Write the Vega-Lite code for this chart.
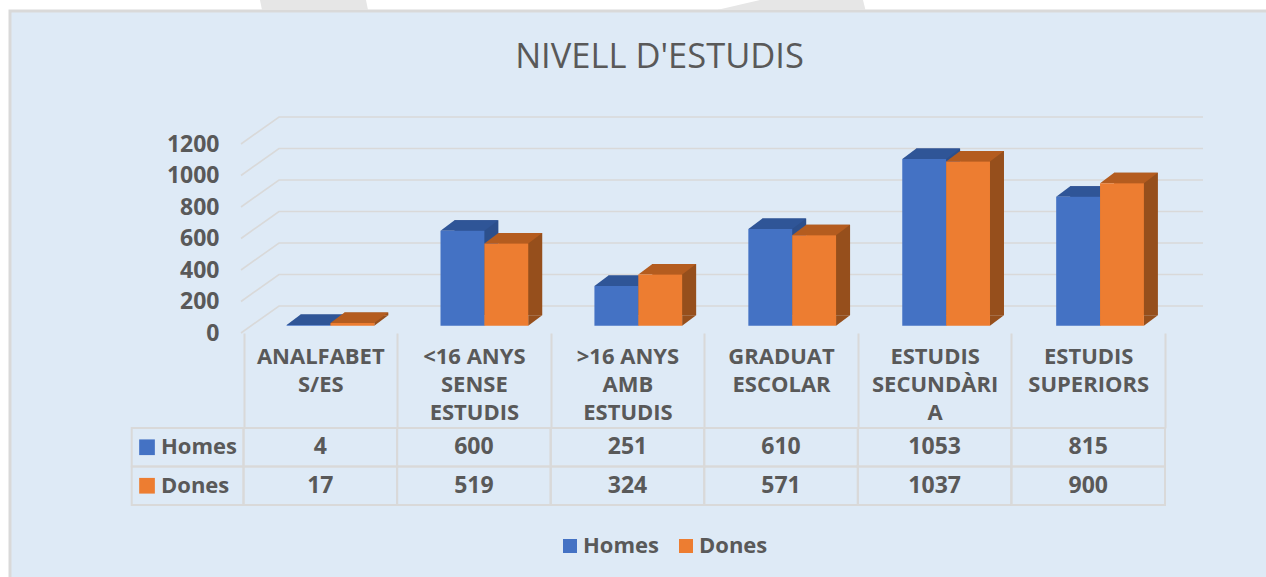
{
"$schema":"https://vega.github.io/schema/vega-lite/v6.json",
"width":1259,"height":569,
"padding":{"left":10,"top":11,"right":-3,"bottom":-3},
"autosize":{"type":"none"},
"background":"#FFFFFF",
"view":{"fill":"#DEEAF6","stroke":"#D9D9D9","strokeWidth":3},
"title":{"text":"NIVELL D'ESTUDIS","offset":-75,"anchor":"middle","dx":20,"fontSize":34.5,"font":"Open Sans","fontWeight":"normal","color":"#595959"},
"config":{"font":"Open Sans","text":{"font":"Open Sans"}},
"datasets":{
"rows":[
{"cat":"ANALFABET\nS/ES","series":"Homes","value":4},
{"cat":"ANALFABET\nS/ES","series":"Dones","value":17},
{"cat":"<16 ANYS\nSENSE\nESTUDIS","series":"Homes","value":600},
{"cat":"<16 ANYS\nSENSE\nESTUDIS","series":"Dones","value":519},
{"cat":">16 ANYS\nAMB\nESTUDIS","series":"Homes","value":251},
{"cat":">16 ANYS\nAMB\nESTUDIS","series":"Dones","value":324},
{"cat":"GRADUAT\nESCOLAR","series":"Homes","value":610},
{"cat":"GRADUAT\nESCOLAR","series":"Dones","value":571},
{"cat":"ESTUDIS\nSECUNDÀRI\nA","series":"Homes","value":1053},
{"cat":"ESTUDIS\nSECUNDÀRI\nA","series":"Dones","value":1037},
{"cat":"ESTUDIS\nSUPERIORS","series":"Homes","value":815},
{"cat":"ESTUDIS\nSUPERIORS","series":"Dones","value":900}
],
"ticks":[{"tick":0},{"tick":200},{"tick":400},{"tick":600},{"tick":800},{"tick":1000},{"tick":1200}],
"series":[{"series":"Homes"},{"series":"Dones"}]
},
"resolve":{"scale":{"x":"independent","y":"independent"}},
"layer":[
{"data":{"name":"ticks"},
 "transform":[{"filter":"datum.tick===1200"}],
 "mark":{"type":"point","shape":"M16.5,-144L122.5,-144L124.5,-134L18.5,-134ZM473.5,-134L516.5,-144L619.5,-144L622,-134Z","size":4,"filled":true,"color":"#E6E6E6","opacity":1},
 "encoding":{
  "x":{"datum":"ANALFABET\nS/ES","type":"nominal","bandPosition":0,"axis":null,"scale":{"type":"band","domain":["ANALFABET\nS/ES","<16 ANYS\nSENSE\nESTUDIS",">16 ANYS\nAMB\nESTUDIS","GRADUAT\nESCOLAR","ESTUDIS\nSECUNDÀRI\nA","ESTUDIS\nSUPERIORS"],"range":[233.5,1155]}},
  "y":{"field":"tick","type":"quantitative","axis":null,"scale":{"domain":[0,1200],"range":[322,133],"nice":false}}
 }},
{"data":{"name":"ticks"},
 "mark":{"type":"point","shape":"M-2.5,0L35.5,-27L959.5,-27","size":4,"filled":false,"stroke":"#D9D9D9","strokeWidth":1.6,"opacity":1},
 "encoding":{
  "x":{"datum":"ANALFABET\nS/ES","type":"nominal","bandPosition":0,"axis":null,"scale":{"type":"band","domain":["ANALFABET\nS/ES","<16 ANYS\nSENSE\nESTUDIS",">16 ANYS\nAMB\nESTUDIS","GRADUAT\nESCOLAR","ESTUDIS\nSECUNDÀRI\nA","ESTUDIS\nSUPERIORS"],"range":[233.5,1155]}},
  "y":{"field":"tick","type":"quantitative","scale":{"domain":[0,1200],"range":[322,133],"nice":false},
   "axis":{"orient":"left","offset":-209,"values":[0,200,400,600,800,1000,1200],"format":"d","domain":false,"ticks":false,"grid":false,"title":null,"labelPadding":0,"labelFont":"Open Sans","labelFontSize":23,"labelFontWeight":"bold","labelColor":"#595959"}}
 }},
{"data":{"name":"rows"},
 "mark":{"type":"bar"},
 "encoding":{
  "x":{"field":"cat","type":"nominal","axis":null,"scale":{"type":"band","domain":["ANALFABET\nS/ES","<16 ANYS\nSENSE\nESTUDIS",">16 ANYS\nAMB\nESTUDIS","GRADUAT\nESCOLAR","ESTUDIS\nSECUNDÀRI\nA","ESTUDIS\nSUPERIORS"],"range":[257.5,1181],"paddingInner":0.43,"paddingOuter":0.215}},
  "xOffset":{"field":"series","type":"nominal","sort":["Homes","Dones"]},
  "y":{"field":"value","type":"quantitative","axis":null,"scale":{"domain":[0,1200],"range":[304.2,114.2],"nice":false}},
  "color":{"condition":{"test":"datum.series==='Homes'","value":"#2C4F8C"},"value":"#964F1C"}
 }},
{"data":{"name":"rows"},
 "mark":{"type":"point","shape":"M21.9,0L21.9,-10.5L35.9,-10.5Z","size":4,"filled":true,"opacity":1},
 "encoding":{
  "x":{"field":"cat","type":"nominal","axis":null,"scale":{"type":"band","domain":["ANALFABET\nS/ES","<16 ANYS\nSENSE\nESTUDIS",">16 ANYS\nAMB\nESTUDIS","GRADUAT\nESCOLAR","ESTUDIS\nSECUNDÀRI\nA","ESTUDIS\nSUPERIORS"],"range":[243.5,1167],"paddingInner":0.43,"paddingOuter":0.215}},
  "xOffset":{"field":"series","type":"nominal","sort":["Homes","Dones"]},
  "y":{"datum":0,"type":"quantitative","axis":null,"scale":{"domain":[0,1200],"range":[314.7,124.7],"nice":false}},
  "color":{"condition":{"test":"datum.series==='Homes'","value":"#2C4F8C"},"value":"#964F1C"}
 }},
{"data":{"name":"rows"},
 "mark":{"type":"point","shape":"M-21.9,0L21.9,0L35.9,-10.5L-7.9,-10.5Z","size":4,"filled":true,"opacity":1},
 "encoding":{
  "x":{"field":"cat","type":"nominal","axis":null,"scale":{"type":"band","domain":["ANALFABET\nS/ES","<16 ANYS\nSENSE\nESTUDIS",">16 ANYS\nAMB\nESTUDIS","GRADUAT\nESCOLAR","ESTUDIS\nSECUNDÀRI\nA","ESTUDIS\nSUPERIORS"],"range":[243.5,1167],"paddingInner":0.43,"paddingOuter":0.215}},
  "xOffset":{"field":"series","type":"nominal","sort":["Homes","Dones"]},
  "y":{"field":"value","type":"quantitative","axis":null,"scale":{"domain":[0,1200],"range":[314.7,124.7],"nice":false}},
  "color":{"condition":{"test":"datum.series==='Homes'","value":"#2F5597"},"value":"#B45C1F"}
 }},
{"data":{"name":"rows"},
 "mark":{"type":"bar"},
 "encoding":{
  "x":{"field":"cat","type":"nominal","axis":null,"scale":{"type":"band","domain":["ANALFABET\nS/ES","<16 ANYS\nSENSE\nESTUDIS",">16 ANYS\nAMB\nESTUDIS","GRADUAT\nESCOLAR","ESTUDIS\nSECUNDÀRI\nA","ESTUDIS\nSUPERIORS"],"range":[243.5,1167],"paddingInner":0.43,"paddingOuter":0.215}},
  "xOffset":{"field":"series","type":"nominal","sort":["Homes","Dones"]},
  "y":{"field":"value","type":"quantitative","axis":null,"scale":{"domain":[0,1200],"range":[314.7,124.7],"nice":false}},
  "color":{"field":"series","type":"nominal","scale":{"domain":["Homes","Dones"],"range":["#4472C4","#ED7D31"]},
   "legend":{"orient":"none","legendX":549,"legendY":524,"direction":"horizontal","title":null,"symbolType":"square","symbolSize":196,"symbolStrokeWidth":0,"labelFont":"Open Sans","labelFontSize":22,"labelFontWeight":"bold","labelColor":"#595959","columnPadding":16,"labelOffset":2}}
 }},
{"data":{"name":"rows"},
 "mark":{"type":"rect","fillOpacity":0,"stroke":"#D9D9D9","strokeWidth":2},
 "encoding":{
  "x":{"field":"cat","type":"nominal","scale":{"type":"band","domain":["ANALFABET\nS/ES","<16 ANYS\nSENSE\nESTUDIS",">16 ANYS\nAMB\nESTUDIS","GRADUAT\nESCOLAR","ESTUDIS\nSECUNDÀRI\nA","ESTUDIS\nSUPERIORS"],"range":[233.5,1155]},
   "axis":{"orient":"bottom","offset":-247,"title":null,"domain":false,"ticks":true,"tickBand":"extent","tickSize":95,"tickColor":"#D9D9D9","tickWidth":2,"labelAngle":0,"labelPadding":-82,"labelLineHeight":28,"labelOverlap":false,"labelBound":false,"labelFlush":false,"labelLimit":0,"labelFont":"Open Sans","labelFontSize":22,"labelFontWeight":"bold","labelColor":"#595959","labelExpr":"split(datum.label,'\\n')"}},
  "y":{"field":"series","type":"nominal","axis":null,"scale":{"type":"band","domain":["Homes","Dones"],"range":[417,494]}}
 }},
{"data":{"name":"rows"},
 "mark":{"type":"text","font":"Open Sans","fontSize":23,"fontWeight":"bold","color":"#595959","align":"center","baseline":"middle"},
 "encoding":{
  "x":{"field":"cat","type":"nominal","axis":null,"scale":{"type":"band","domain":["ANALFABET\nS/ES","<16 ANYS\nSENSE\nESTUDIS",">16 ANYS\nAMB\nESTUDIS","GRADUAT\nESCOLAR","ESTUDIS\nSECUNDÀRI\nA","ESTUDIS\nSUPERIORS"],"range":[233.5,1155]}},
  "y":{"field":"series","type":"nominal","axis":null,"scale":{"type":"band","domain":["Homes","Dones"],"range":[417,494]}},
  "text":{"field":"value","type":"quantitative","format":"d"}
 }},
{"data":{"name":"series"},
 "mark":{"type":"rect","fillOpacity":0,"stroke":"#D9D9D9","strokeWidth":2},
 "encoding":{
  "x":{"datum":"hdr","type":"nominal","axis":null,"scale":{"type":"band","domain":["hdr"],"range":[121.7,233.5]}},
  "y":{"field":"series","type":"nominal","axis":null,"scale":{"type":"band","domain":["Homes","Dones"],"range":[417,494]}}
 }},
{"data":{"name":"series"},
 "mark":{"type":"point","shape":"square","filled":true,"size":246,"opacity":1},
 "encoding":{
  "x":{"datum":"hdr","type":"nominal","bandPosition":0.137,"axis":null,"scale":{"type":"band","domain":["hdr"],"range":[121.7,233.5]}},
  "y":{"field":"series","type":"nominal","axis":null,"scale":{"type":"band","domain":["Homes","Dones"],"range":[417,494]}},
  "color":{"condition":{"test":"datum.series==='Homes'","value":"#4472C4"},"value":"#ED7D31"}
 }},
{"data":{"name":"series"},
 "mark":{"type":"text","font":"Open Sans","fontSize":22,"fontWeight":"bold","color":"#595959","align":"left","baseline":"middle"},
 "encoding":{
  "x":{"datum":"hdr","type":"nominal","bandPosition":0.262,"axis":null,"scale":{"type":"band","domain":["hdr"],"range":[121.7,233.5]}},
  "y":{"field":"series","type":"nominal","axis":null,"scale":{"type":"band","domain":["Homes","Dones"],"range":[417,494]}},
  "text":{"field":"series","type":"nominal"}
 }}
]
}
